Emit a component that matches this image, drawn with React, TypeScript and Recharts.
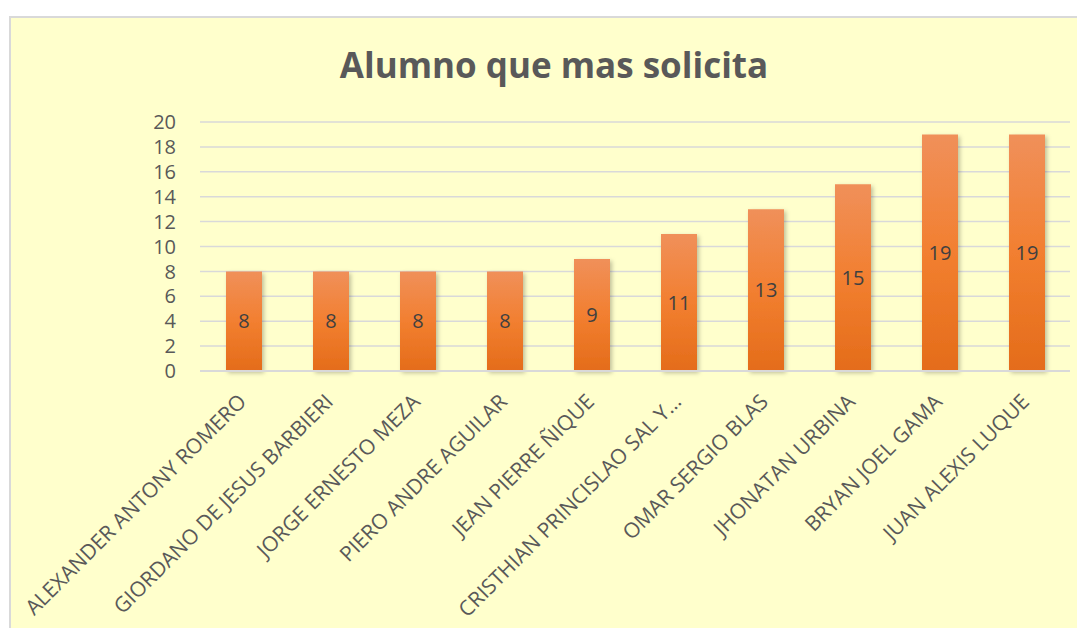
import { Bar, BarChart, CartesianGrid, LabelList, XAxis, YAxis } from "recharts";

const alumnos = [
  "ALEXANDER ANTONY ROMERO",
  "GIORDANO DE JESUS BARBIERI",
  "JORGE ERNESTO MEZA",
  "PIERO ANDRE AGUILAR",
  "JEAN PIERRE ÑIQUE",
  "CRISTHIAN PRINCISLAO SAL Y…",
  "OMAR SERGIO BLAS",
  "JHONATAN URBINA",
  "BRYAN JOEL GAMA",
  "JUAN ALEXIS LUQUE",
];
const solicitudes = [8, 8, 8, 8, 9, 11, 13, 15, 19, 19];
const yTicks = [0, 2, 4, 6, 8, 10, 12, 14, 16, 18, 20];

const chartData = alumnos.map((name, i) => ({ name, value: solicitudes[i] }));

const FONT = "'Open Sans', sans-serif";
const INK = "#595959";

function NameTick({ x, y, payload }: any) {
  return (
    <g transform={`translate(${x + 4},${y + 32})`}>
      <text
        x={0}
        y={0}
        textAnchor="end"
        transform="rotate(-45)"
        fill={INK}
        fontSize={21}
        fontFamily={FONT}
      >
        {payload.value}
      </text>
    </g>
  );
}

export default function App() {
  return (
    <div
      style={{
        position: "relative",
        marginLeft: 1,
        marginTop: 8,
        width: 1085,
        height: 620,
        boxSizing: "border-box",
        border: "2px solid #D9D9D9",
        background: "#FFFFCC",
      }}
    >
      <div
        style={{
          position: "absolute",
          left: 0,
          top: 29,
          width: 1086,
          textAlign: "center",
          fontFamily: FONT,
          fontWeight: 700,
          fontSize: 35,
          lineHeight: 1,
          color: INK,
        }}
      >
        Alumno que mas solicita
      </div>
      <div style={{ position: "absolute", left: 0, top: 0 }}>
        <BarChart
          width={1081}
          height={610}
          data={chartData}
          margin={{ top: 104, right: 22, bottom: 0, left: 0 }}
        >
          <defs>
            <linearGradient id="barFill" x1="0" y1="0" x2="0" y2="1">
              <stop offset="0%" stopColor="#F0905A" />
              <stop offset="50%" stopColor="#F27F30" />
              <stop offset="100%" stopColor="#E46C1A" />
            </linearGradient>
            <filter id="barShadow" x="-20%" y="-5%" width="150%" height="115%">
              <feDropShadow dx="2" dy="2" stdDeviation="2" floodColor="#000" floodOpacity="0.25" />
            </filter>
          </defs>
          <CartesianGrid stroke="#D9D9D9" strokeWidth={1.5} vertical={false} />
          <XAxis
            dataKey="name"
            interval={0}
            height={257}
            tickSize={0}
            tickMargin={0}
            tickLine={false}
            axisLine={{ stroke: "#D9D9D9", strokeWidth: 2 }}
            tick={<NameTick />}
          />
          <YAxis
            width={189}
            domain={[0, 20]}
            ticks={yTicks}
            interval={0}
            tickSize={0}
            tickMargin={24}
            tickLine={false}
            axisLine={false}
            tick={{ fill: INK, fontSize: 20, fontFamily: FONT }}
          />
          <Bar
            dataKey="value"
            fill="url(#barFill)"
            barSize={36}
            filter="url(#barShadow)"
            isAnimationActive={false}
          >
            <LabelList
              dataKey="value"
              position="center"
              fill="#404040"
              fontSize={20}
              fontFamily={FONT}
            />
          </Bar>
        </BarChart>
      </div>
    </div>
  );
}
